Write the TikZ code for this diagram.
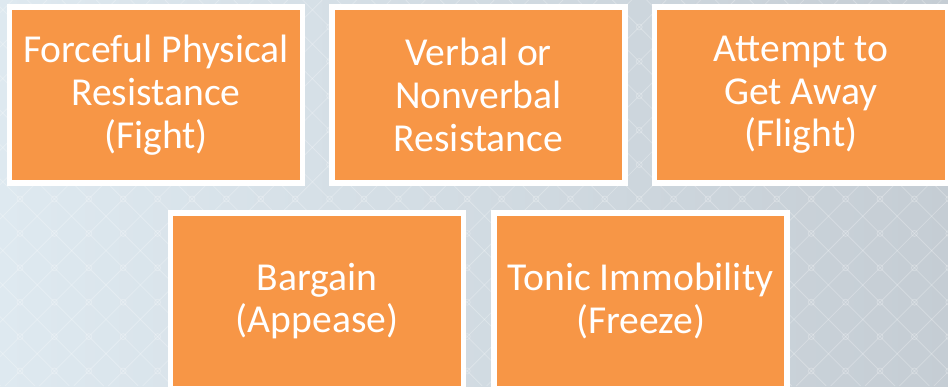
\documentclass[tikz,border=0pt]{standalone}
\usepackage{fontspec}
\setmainfont{Carlito}
\usepackage{xcolor}
\usepackage{tikz}
\usetikzlibrary{positioning}
\definecolor{boxorange}{HTML}{F79646}
\definecolor{bgleft}{HTML}{DEE9F0}
\definecolor{bgright}{HTML}{C5CDD4}
\tikzset{blk/.style={rectangle,draw=white,fill=boxorange,line width=4.1pt,minimum width=219.75pt,minimum height=132pt,inner sep=0pt,text=white,align=center,font=\fontsize{29.7}{32}\selectfont}}
\tikzset{lat/.style={white,opacity=0.25,line width=0.6pt}}

\begin{document}
\begin{tikzpicture}[x=0.75pt,y=-0.75pt]
        \useasboundingbox (0,0) rectangle (948,386);
        \shade[left color=bgleft,right color=bgright] (0,0) rectangle (948,386);
        \begin{scope}
        \clip (0,0) rectangle (948,386);
        \foreach \k in {-8,...,34}{
            \draw[lat] (-179+34.4*\k,0) -- (207+34.4*\k,386);
            \draw[lat] (219+34.4*\k,0) -- (-167+34.4*\k,386);
        }
        \foreach \i in {0,...,27}
            \foreach \j in {-6,...,5}
                \draw[lat] (20+34.4*\i,199+34.4*\j) circle (3);
        \end{scope}

        \node[blk] (a)at (156,95) {Forceful Physical\\Resistance\\(Fight)};
        \node[blk] (b)at (478.5,95) {Verbal or\\Nonverbal\\Resistance};
        \node[blk] (c)at (801,95) {Attempt to\\Get Away\\(Flight)};
        \node[blk] (d)at (317,301) {Bargain\\(Appease)};
        \node[blk] (e)at (640.5,301) {Tonic Immobility\\(Freeze)};
    \end{tikzpicture}
\end{document}
